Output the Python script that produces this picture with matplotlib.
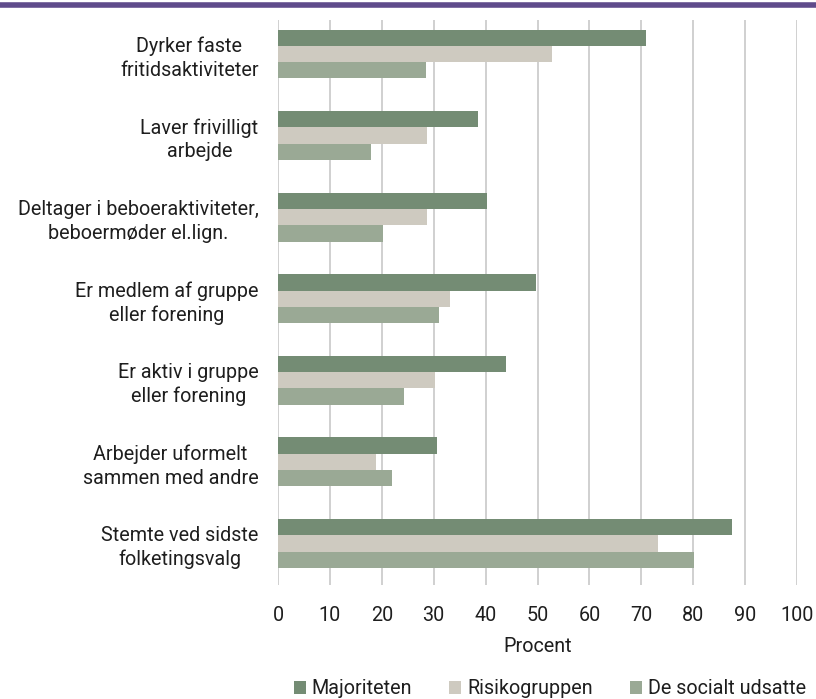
import numpy as np
import matplotlib
matplotlib.use("Agg")
import matplotlib.pyplot as plt
from matplotlib.lines import Line2D

plt.rcParams['font.family'] = ['Roboto', 'DejaVu Sans']

categories = [
    "Dyrker faste\nfritidsaktiviteter",
    "Laver frivilligt\narbejde",
    "Deltager i beboeraktiviteter,\nbeboermøder el.lign.",
    "Er medlem af gruppe\neller forening",
    "Er aktiv i gruppe\neller forening",
    "Arbejder uformelt\nsammen med andre",
    "Stemte ved sidste\nfolketingsvalg",
]
series_names = ["Majoriteten", "Risikogruppen", "De socialt udsatte"]
majoriteten = [71.0, 38.6, 40.2, 49.8, 44.0, 30.7, 87.5]
risikogruppen = [52.7, 28.8, 28.8, 33.1, 30.2, 18.9, 73.2]
socialt_udsatte = [28.6, 18.0, 20.2, 31.0, 24.3, 22.0, 80.2]
x_ticks = list(range(0, 101, 10))
x_label = "Procent"

colors = ["#748c74", "#cecac0", "#9aa995"]
values = [majoriteten, risikogruppen, socialt_udsatte]
txt = "#1e1e1e"
fs = 14.2

fig = plt.figure(figsize=(8.16, 6.99), dpi=100)
ax = fig.add_axes([278 / 816, 1 - 585 / 699, (797 - 278) / 816, (585 - 20) / 699])

# purple rule across the top
fig.add_artist(Line2D([0, 1], [1 - 5 / 699, 1 - 5 / 699], color="#5f4b8b",
                      linewidth=4, transform=fig.transFigure))

y = np.arange(len(categories))
h = 0.2
for i, (vals, col, name) in enumerate(zip(values, colors, series_names)):
    ax.barh(y + (i - 1) * h, vals, height=h, color=col, label=name, zorder=3)

ax.set_xlim(0, 100)
ax.set_ylim(6.51, -0.417)
ax.set_xticks(x_ticks)
ax.set_yticks(y)
ax.set_yticklabels(categories, multialignment="center", fontsize=fs, color=txt,
                   linespacing=1.3)
ax.tick_params(axis="y", length=0, pad=14)
ax.tick_params(axis="x", length=0, pad=15, labelsize=fs, labelcolor=txt)
ax.grid(axis="x", color="#c8c8c8", linewidth=1.2, zorder=0)
for s in ax.spines.values():
    s.set_visible(False)
ax.set_xlabel(x_label, fontsize=fs, color=txt, labelpad=9)

leg = fig.legend(loc="center", bbox_to_anchor=(550 / 816, 1 - 689 / 699), ncol=3,
                 frameon=False, fontsize=fs, handlelength=0.6, handleheight=0.6,
                 handletextpad=0.3, columnspacing=1.9)
for t in leg.get_texts():
    t.set_color(txt)

fig.savefig("out.png", dpi=100)
